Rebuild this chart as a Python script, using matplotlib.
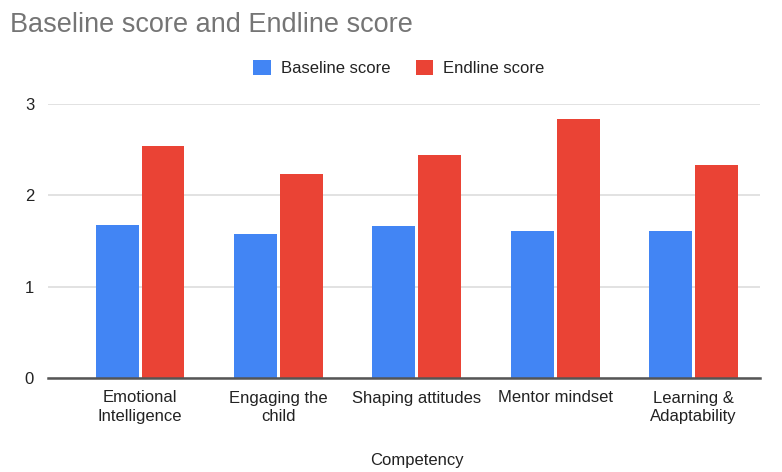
import matplotlib
matplotlib.use("Agg")
import matplotlib.pyplot as plt
import numpy as np

plt.rcParams['font.family'] = ['Liberation Sans', 'DejaVu Sans']

categories = ["Emotional\nIntelligence", "Engaging the\nchild", "Shaping attitudes",
              "Mentor mindset", "Learning &\nAdaptability"]
baseline = [1.68, 1.58, 1.66, 1.61, 1.61]
endline = [2.54, 2.23, 2.44, 2.84, 2.33]
yticks = [0, 1, 2, 3]

fig = plt.figure(figsize=(7.82, 4.72), dpi=100)
ax = fig.add_axes([48/782, 1 - 378/472, (760-48)/782, (378-104)/472])

x = np.arange(len(categories))
w = 0.31
off = 0.166
ax.bar(x - off, baseline, w, color="#4285F4", label="Baseline score", zorder=3)
ax.bar(x + off, endline, w, color="#EA4335", label="Endline score", zorder=3)

ax.set_xlim(-0.665, 4.48)
ax.set_ylim(0, 3)
ax.set_yticks(yticks)
ax.set_yticklabels([str(t) for t in yticks])
ax.set_xticks(x)
ax.set_xticklabels(categories, fontsize=12, color="#222222", linespacing=1.3)
ax.tick_params(axis='y', length=0, pad=10, labelsize=12, labelcolor="#222222")
ax.tick_params(axis='x', length=0, pad=9)
ax.grid(axis='y', color="#dddddd", linewidth=1.2, zorder=0)
for s in ['top', 'right', 'left']:
    ax.spines[s].set_visible(False)
ax.spines['bottom'].set_color("#555555")
ax.spines['bottom'].set_linewidth(1.8)
ax.spines['bottom'].set_zorder(4)

fig.text(10/782, 1 - 25/472, "Baseline score and Endline score", fontsize=19.5,
         color="#757575", va="center", ha="left")
fig.text(417/782, 1 - 460/472, "Competency", fontsize=12, color="#222222",
         ha="center", va="center")

fig.legend(loc="center", bbox_to_anchor=(399/782, 1 - 68/472), ncol=2, frameon=False,
           fontsize=12, handlelength=1.06, handleheight=1.06, columnspacing=1.5,
           handletextpad=0.6, labelcolor="#222222")

fig.savefig("out.png", dpi=100)
